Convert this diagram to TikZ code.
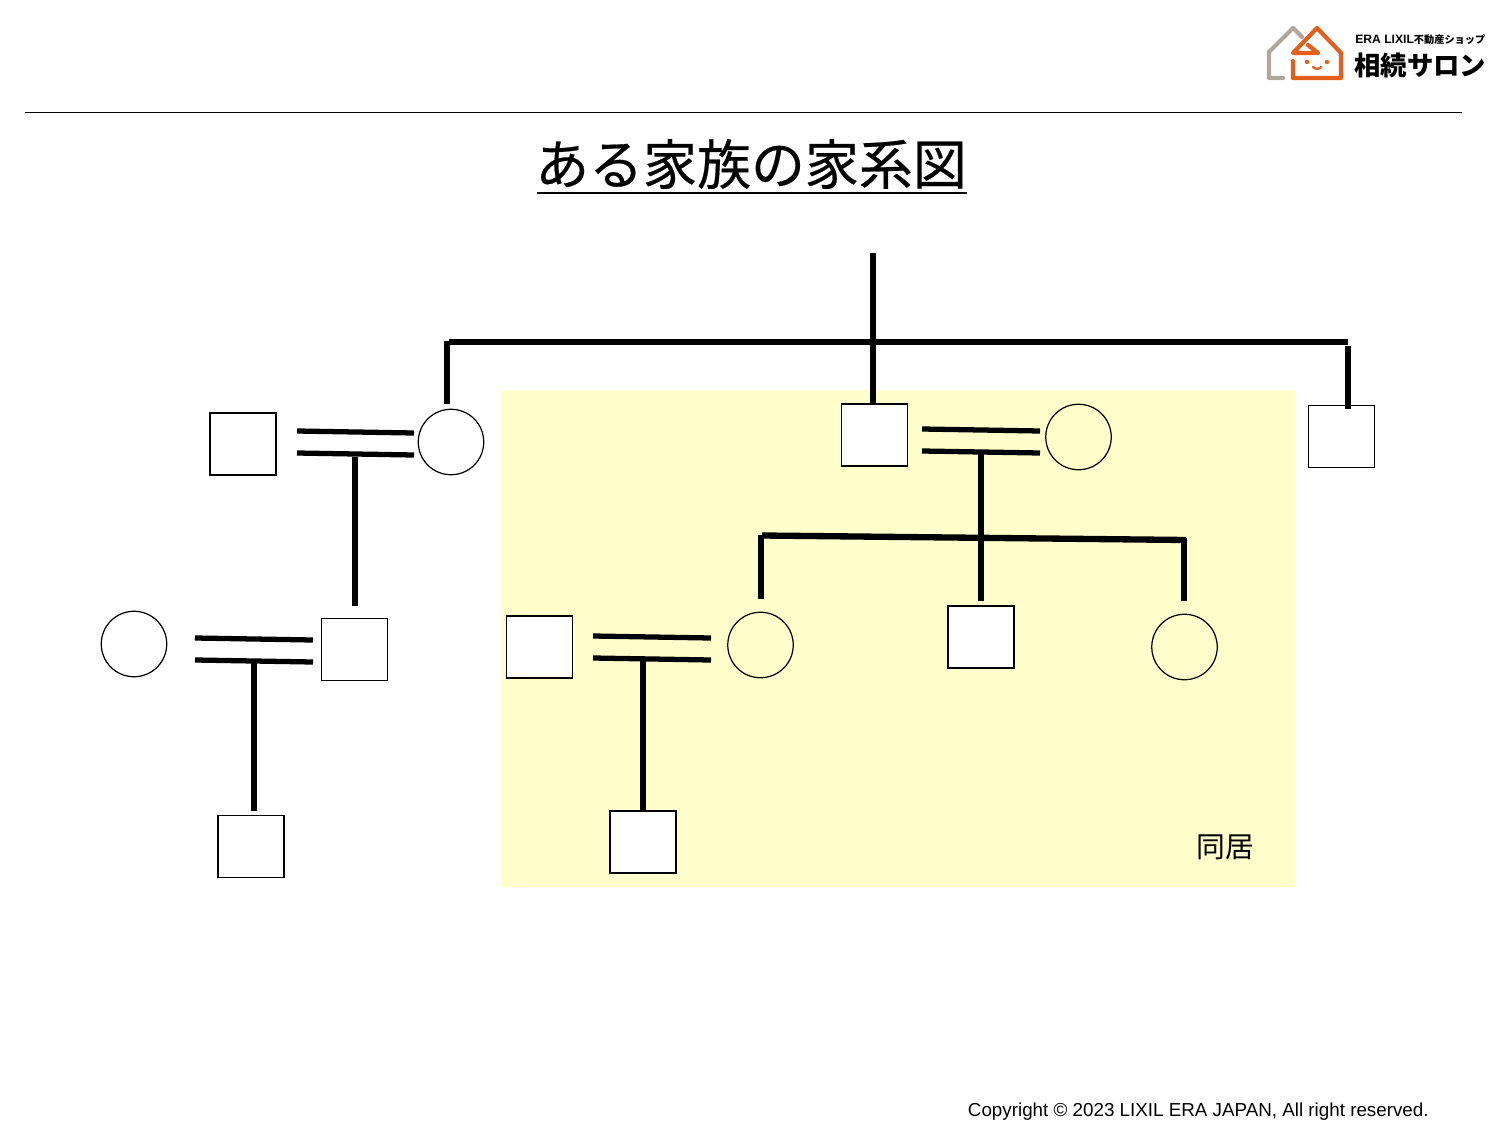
\documentclass[tikz,border=0pt]{standalone}
\usepackage{fontspec}
\setmainfont{Liberation Sans}
\newfontfamily\jpfont{Noto Sans CJK JP}
\newfontfamily\titlefont[FakeBold=0.4]{Noto Sans CJK JP}
\definecolor{livecolor}{HTML}{FFFFCC}
\definecolor{logoorange}{HTML}{E2601C}
\definecolor{logogray}{HTML}{AFA69E}
\tikzset{
	male/.style = {% a square for a man
		rectangle,
		draw=black,
		fill=white,
		line width=0.7pt,
		inner sep=0pt,
		minimum width=1.32cm,
		minimum height=1.24cm,
	},
	female/.style = {% a circle for a woman
		circle,
		draw=black,
		line width=0.7pt,
		inner sep=0pt,
		minimum size=1.31cm,
	},
	bloodline/.style = {line width=3.6pt, black},
	marriage/.style = {line width=3pt, black},
	logoline/.style = {line width=2.4pt, line join=round, line cap=round},
}

\begin{document}
\begin{tikzpicture}[x=0.02cm,y=-0.02cm]
	\useasboundingbox (0,0) rectangle (1500,1125);
	\fill[livecolor] (500.5,390) rectangle (1294.5,886.5);
	\draw[line width=0.55pt] (25,112) -- (1462,112);

	% logo
	\draw[logoline, logogray] (1283,78) -- (1269,78) -- (1269,52) -- (1293,28) -- (1302,37);
	\draw[logoline, logoorange] (1318,53) -- (1308,45) (1318,53) -- (1293,53) -- (1317,28) -- (1341,53) -- (1341,78) -- (1293,78) -- (1293,61);
	\fill[logoorange] (1307,62) circle (2.2) (1327,62) circle (2.2);
	\draw[logoorange, line width=1.3pt, line cap=round] (1313,67) to[bend right=50] (1321,67);
	\node[anchor=west, inner sep=0pt, font=\bfseries\fontsize{6.9}{8}\selectfont] (logotop) at (1355,40) {ERA LIXIL{\jpfont\fontsize{5.8}{8}\selectfont 不動産ショップ}};
	\node[anchor=west, inner sep=0pt, font=\jpfont\bfseries\fontsize{15}{18}\selectfont] (logoname) at (1354,65) {相続サロン};

	\node[inner sep=0pt, font=\titlefont\fontsize{30.7}{36}\selectfont] (title) at (751,164) {ある家族の家系図};
	\coordinate (ulL) at (537,193);
	\coordinate (ulR) at (967,193);
	\draw[line width=1.3pt] (ulL) -- (ulR);

	% people
	\foreach \name/\x/\y in {hus/243/444, son/354.5/649.5, grandson/251/846.5, eldest/874.5/435, younger/1341.5/436.5, inlaw/539.5/647, child/981/637, baby/643/842}
		\node[male] (\name) at (\x,\y) {};
	\foreach \name/\x/\y in {aunt/451/442, sonwife/134/644, wife/1078.5/437, daughter/760.5/645, youngest/1184.5/647}
		\node[female] (\name) at (\x,\y) {};

	% marriages: left end, right end, then the two heights
	\foreach \a/\b/\c/\d in {297/414/431/433, 195/313/638/640, 922/1040/429/431, 593/711/636/638} {
		\draw[marriage] (\a,\c) -- (\b,\d);
		\draw[marriage] (\a,\c+22) -- (\b,\d+22);
	}

	\coordinate (root) at (873,253);
	\coordinate (barL) at (449,342);
	\coordinate (barR) at (1347.5,342);
	\coordinate (rootEnd) at (873,404);
	\coordinate (auntBar) at (447,341);
	\coordinate (auntTop) at (447,404);
	\coordinate (youngerBar) at (1348,346);
	\coordinate (youngerTop) at (1348,409);
	\draw[bloodline] (root) -- (rootEnd);
	\draw[bloodline] (barL) -- (barR);
	\draw[bloodline] (auntBar) -- (auntTop);
	\draw[bloodline] (youngerBar) -- (youngerTop);

	\coordinate (auntM) at (355,457);
	\coordinate (auntEnd) at (355,606);
	\draw[bloodline] (auntM) -- (auntEnd);
	\coordinate (sonM) at (254,662);
	\coordinate (sonEnd) at (254,811);
	\draw[bloodline] (sonM) -- (sonEnd);
	\coordinate (inlawM) at (643,660);
	\coordinate (inlawEnd) at (643,810);
	\draw[bloodline] (inlawM) -- (inlawEnd);

	\coordinate (wifeM) at (981,453);
	\coordinate (wifeEnd) at (981,601);
	\draw[bloodline] (wifeM) -- (wifeEnd);
	\coordinate (kidsL) at (762,535.5);
	\coordinate (kidsR) at (1186,540);
	\coordinate (daughterBar) at (761,535);
	\coordinate (daughterEnd) at (761,599);
	\coordinate (youngestBar) at (1184,538);
	\coordinate (youngestEnd) at (1184,601);
	\draw[bloodline] (kidsL) -- (kidsR);
	\draw[bloodline] (daughterBar) -- (daughterEnd);
	\draw[bloodline] (youngestBar) -- (youngestEnd);

	\node[inner sep=0pt, font=\jpfont\fontsize{16.4}{20}\selectfont] (dwell) at (1225,847) {同居};
	\node[anchor=east, inner sep=0pt, font=\fontsize{10.7}{14}\selectfont] (copyright) at (1429,1112) {Copyright © 2023 LIXIL ERA JAPAN, All right reserved.};
\end{tikzpicture}
\end{document}
